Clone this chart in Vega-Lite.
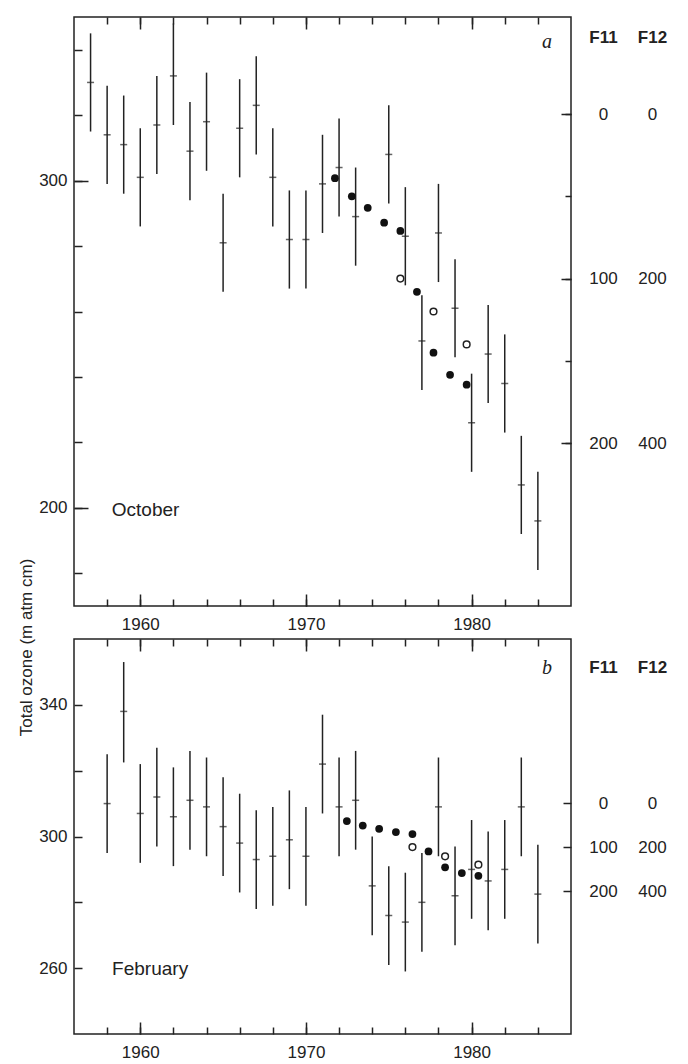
{
  "$schema": "https://vega.github.io/schema/vega-lite/v6.json",
  "background": "white",
  "padding": {"left": 16, "top": 15, "right": 0, "bottom": 0},
  "spacing": 33,
  "bounds": "flush",
  "config": {
    "view": {"stroke": "#222", "strokeWidth": 1.5},
    "font": "Liberation Sans",
    "axis": {
      "labelFont": "Liberation Sans", "labelFontSize": 17, "labelColor": "#222",
      "tickColor": "#222", "tickWidth": 1.5, "domain": false, "grid": false,
      "labelOverlap": false, "labelFlush": false,
      "titleFont": "Liberation Sans", "titleFontSize": 17, "titleFontWeight": "normal", "titleColor": "#222"
    }
  },
  "datasets": {
    "octBars": [
      {"year": 1957, "ozone": 330, "lo": 315, "hi": 345},
      {"year": 1958, "ozone": 314, "lo": 299, "hi": 329},
      {"year": 1959, "ozone": 311, "lo": 296, "hi": 326},
      {"year": 1960, "ozone": 301, "lo": 286, "hi": 316},
      {"year": 1961, "ozone": 317, "lo": 302, "hi": 332},
      {"year": 1962, "ozone": 332, "lo": 317, "hi": 348},
      {"year": 1963, "ozone": 309, "lo": 294, "hi": 324},
      {"year": 1964, "ozone": 318, "lo": 303, "hi": 333},
      {"year": 1965, "ozone": 281, "lo": 266, "hi": 296},
      {"year": 1966, "ozone": 316, "lo": 301, "hi": 331},
      {"year": 1967, "ozone": 323, "lo": 308, "hi": 338},
      {"year": 1968, "ozone": 301, "lo": 286, "hi": 316},
      {"year": 1969, "ozone": 282, "lo": 267, "hi": 297},
      {"year": 1970, "ozone": 282, "lo": 267, "hi": 297},
      {"year": 1971, "ozone": 299, "lo": 284, "hi": 314},
      {"year": 1972, "ozone": 304, "lo": 289, "hi": 319},
      {"year": 1973, "ozone": 289, "lo": 274, "hi": 304},
      {"year": 1975, "ozone": 308, "lo": 293, "hi": 323},
      {"year": 1976, "ozone": 283, "lo": 268, "hi": 298},
      {"year": 1977, "ozone": 251, "lo": 236, "hi": 265},
      {"year": 1978, "ozone": 284, "lo": 269, "hi": 299},
      {"year": 1979, "ozone": 261, "lo": 246, "hi": 276},
      {"year": 1980, "ozone": 226, "lo": 211, "hi": 241},
      {"year": 1981, "ozone": 247, "lo": 232, "hi": 262},
      {"year": 1982, "ozone": 238, "lo": 223, "hi": 253},
      {"year": 1983, "ozone": 207, "lo": 192, "hi": 222},
      {"year": 1984, "ozone": 196, "lo": 181, "hi": 211}
    ],
    "febBars": [
      {"year": 1958, "ozone": 310, "lo": 295, "hi": 325},
      {"year": 1959, "ozone": 338, "lo": 322.5, "hi": 353},
      {"year": 1960, "ozone": 307, "lo": 292, "hi": 322},
      {"year": 1961, "ozone": 312, "lo": 297, "hi": 327},
      {"year": 1962, "ozone": 306, "lo": 291, "hi": 321},
      {"year": 1963, "ozone": 311, "lo": 296, "hi": 326},
      {"year": 1964, "ozone": 309, "lo": 294, "hi": 324},
      {"year": 1965, "ozone": 303, "lo": 288, "hi": 318},
      {"year": 1966, "ozone": 298, "lo": 283, "hi": 313},
      {"year": 1967, "ozone": 293, "lo": 278, "hi": 308},
      {"year": 1968, "ozone": 294, "lo": 279, "hi": 309},
      {"year": 1969, "ozone": 299, "lo": 284, "hi": 314},
      {"year": 1970, "ozone": 294, "lo": 279, "hi": 309},
      {"year": 1971, "ozone": 322, "lo": 307, "hi": 337},
      {"year": 1972, "ozone": 309, "lo": 294, "hi": 324},
      {"year": 1973, "ozone": 311, "lo": 296, "hi": 326},
      {"year": 1974, "ozone": 285, "lo": 270, "hi": 300},
      {"year": 1975, "ozone": 276, "lo": 261, "hi": 291},
      {"year": 1976, "ozone": 274, "lo": 259, "hi": 289},
      {"year": 1977, "ozone": 280, "lo": 265, "hi": 295},
      {"year": 1978, "ozone": 309, "lo": 294, "hi": 324},
      {"year": 1979, "ozone": 282, "lo": 267, "hi": 297},
      {"year": 1980, "ozone": 290, "lo": 275, "hi": 305},
      {"year": 1981, "ozone": 286.5, "lo": 271.5, "hi": 301.5},
      {"year": 1982, "ozone": 290, "lo": 275, "hi": 305},
      {"year": 1983, "ozone": 309, "lo": 294, "hi": 324},
      {"year": 1984, "ozone": 282.5, "lo": 267.5, "hi": 297.5}
    ],
    "octF11": [
      {"date": 1975.7, "ppt": 100},
      {"date": 1977.7, "ppt": 120},
      {"date": 1979.7, "ppt": 140}
    ],
    "octF12": [
      {"date": 1971.75, "ppt": 78},
      {"date": 1972.77, "ppt": 100},
      {"date": 1973.73, "ppt": 114},
      {"date": 1974.72, "ppt": 132},
      {"date": 1975.7, "ppt": 142},
      {"date": 1976.7, "ppt": 216},
      {"date": 1977.7, "ppt": 290},
      {"date": 1978.7, "ppt": 317},
      {"date": 1979.7, "ppt": 329}
    ],
    "febF11": [
      {"date": 1976.43, "ppt": 100},
      {"date": 1978.4, "ppt": 121},
      {"date": 1980.41, "ppt": 140}
    ],
    "febF12": [
      {"date": 1972.47, "ppt": 82},
      {"date": 1973.43, "ppt": 102},
      {"date": 1974.42, "ppt": 117},
      {"date": 1975.43, "ppt": 132},
      {"date": 1976.43, "ppt": 141},
      {"date": 1977.4, "ppt": 220},
      {"date": 1978.4, "ppt": 292},
      {"date": 1979.41, "ppt": 318},
      {"date": 1980.41, "ppt": 331}
    ],
    "octNotes": [{"year": 1958.28, "ozone": 199.3, "label": "October"}],
    "octTag": [{"year": 1984.55, "ozone": 342.4, "label": "a"}],
    "febNotes": [{"year": 1958.3, "ozone": 259.8, "label": "February"}],
    "febTag": [{"year": 1984.55, "ozone": 351.2, "label": "b"}]
  },
  "vconcat": [
    {
      "width": 497,
      "height": 589,
      "layer": [
        {
          "data": {"name": "octBars"},
          "mark": {"type": "rule", "color": "#222", "strokeWidth": 1.5},
          "encoding": {
            "x": {"field": "year", "type": "quantitative",
              "scale": {"domain": [1956, 1986], "nice": false, "zero": false},
              "axis": {"orient": "bottom", "title": null, "format": "d",
                "values": [1958, 1960, 1962, 1964, 1966, 1968, 1970, 1972, 1974, 1976, 1978, 1980, 1982, 1984],
                "labelExpr": "datum.value % 10 === 0 ? datum.label : ''",
                "tickSize": -7, "labelPadding": 17, "labelFlush": false, "labelOverlap": false}},
            "y": {"field": "lo", "type": "quantitative",
              "scale": {"domain": [170, 350], "nice": false, "zero": false},
              "axis": {"orient": "left", "title": "Total ozone (m atm cm)",
                "values": [180, 200, 220, 240, 260, 280, 300, 320, 340],
                "labelExpr": "datum.value % 100 === 0 ? datum.label : ''",
                "tickSize": -8, "labelPadding": 15, "labelOverlap": false, "labelFlush": false,
                "titleAngle": 270, "titleX": -48, "titleY": 630, "titleAlign": "center", "titleBaseline": "middle"}},
            "y2": {"field": "hi"}
          }
        },
        {
          "data": {"name": "octBars"},
          "mark": {"type": "tick", "orient": "horizontal", "size": 7, "thickness": 1.5, "color": "#222"},
          "encoding": {
            "x": {"field": "year", "type": "quantitative", "scale": {"domain": [1956, 1986], "nice": false, "zero": false}, "axis": null},
            "y": {"field": "ozone", "type": "quantitative", "scale": {"domain": [170, 350], "nice": false, "zero": false}, "axis": null}
          }
        },
        {
          "data": {"name": "octF11"},
          "mark": {"type": "point", "shape": "circle", "filled": false, "size": 45, "strokeWidth": 1.5, "color": "#222", "opacity": 1},
          "encoding": {
            "x": {"field": "date", "type": "quantitative",
              "scale": {"domain": [1956, 1986], "nice": false, "zero": false},
              "axis": {"orient": "top", "title": null, "labels": false,
                "values": [1958, 1960, 1962, 1964, 1966, 1968, 1970, 1972, 1974, 1976, 1978, 1980, 1982, 1984],
                "tickSize": -7}},
            "y": {"field": "ppt", "type": "quantitative",
              "scale": {"domain": [-59, 299], "reverse": true, "nice": false, "zero": false},
              "axis": {"orient": "right", "title": "F11", "values": [0, 100, 200],
                "tickSize": -10,
                "labelPadding": 42, "labelAlign": "center", "labelBaseline": "middle", "labelOverlap": false, "labelFlush": false,
                "titleAngle": 0, "titleX": 32, "titleY": 20, "titleAlign": "center", "titleBaseline": "middle", "titleFontWeight": "bold"}}
          }
        },
        {
          "data": {"name": "octF12"},
          "mark": {"type": "circle", "size": 60, "color": "#111", "opacity": 1},
          "encoding": {
            "x": {"field": "date", "type": "quantitative",
              "scale": {"domain": [1956, 1986], "nice": false, "zero": false},
              "axis": {"orient": "bottom", "title": null, "labels": false, "values": [1960, 1970, 1980], "tickSize": -12}},
            "y": {"field": "ppt", "type": "quantitative",
              "scale": {"domain": [-118, 598], "reverse": true, "nice": false, "zero": false},
              "axis": {"orient": "right", "title": "F12", "values": [0, 100, 200, 300, 400],
                "labelExpr": "datum.value % 200 === 0 ? datum.label : ''",
                "tickSize": -6,
                "labelPadding": 87, "labelAlign": "center", "labelBaseline": "middle", "labelOverlap": false, "labelFlush": false,
                "titleAngle": 0, "titleX": 81, "titleY": 20, "titleAlign": "center", "titleBaseline": "middle", "titleFontWeight": "bold"}}
          }
        },
        {
          "data": {"name": "octNotes"},
          "mark": {"type": "text", "align": "left", "baseline": "middle", "fontSize": 19, "font": "Liberation Sans", "color": "#222"},
          "encoding": {
            "x": {"field": "year", "type": "quantitative",
              "scale": {"domain": [1956, 1986], "nice": false, "zero": false},
              "axis": {"orient": "top", "title": null, "labels": false, "values": [1960, 1970, 1980], "tickSize": -12}},
            "y": {"field": "ozone", "type": "quantitative",
              "scale": {"domain": [170, 350], "nice": false, "zero": false},
              "axis": {"orient": "left", "title": null, "labels": false, "values": [200, 300], "tickSize": -14}},
            "text": {"field": "label"}
          }
        },
        {
          "data": {"name": "octTag"},
          "mark": {"type": "text", "align": "center", "baseline": "middle", "fontSize": 20, "font": "Liberation Serif", "fontStyle": "italic", "color": "#222"},
          "encoding": {
            "x": {"field": "year", "type": "quantitative", "scale": {"domain": [1956, 1986], "nice": false, "zero": false}, "axis": null},
            "y": {"field": "ozone", "type": "quantitative", "scale": {"domain": [170, 350], "nice": false, "zero": false}, "axis": null},
            "text": {"field": "label"}
          }
        }
      ],
      "resolve": {"scale": {"y": "independent"}, "axis": {"x": "independent", "y": "independent"}}
    },
    {
      "width": 497,
      "height": 395,
      "layer": [
        {
          "data": {"name": "febBars"},
          "mark": {"type": "rule", "color": "#222", "strokeWidth": 1.5},
          "encoding": {
            "x": {"field": "year", "type": "quantitative",
              "scale": {"domain": [1956, 1986], "nice": false, "zero": false},
              "axis": {"orient": "bottom", "title": null, "format": "d",
                "values": [1958, 1960, 1962, 1964, 1966, 1968, 1970, 1972, 1974, 1976, 1978, 1980, 1982, 1984],
                "labelExpr": "datum.value % 10 === 0 ? datum.label : ''",
                "tickSize": -7, "labelPadding": 17, "labelFlush": false, "labelOverlap": false}},
            "y": {"field": "lo", "type": "quantitative",
              "scale": {"domain": [240, 360], "nice": false, "zero": false},
              "axis": {"orient": "left", "title": null,
                "values": [260, 280, 300, 320, 340],
                "labelExpr": "datum.value % 40 === 20 ? datum.label : ''",
                "tickSize": -8, "labelPadding": 15, "labelOverlap": false, "labelFlush": false}},
            "y2": {"field": "hi"}
          }
        },
        {
          "data": {"name": "febBars"},
          "mark": {"type": "tick", "orient": "horizontal", "size": 7, "thickness": 1.5, "color": "#222"},
          "encoding": {
            "x": {"field": "year", "type": "quantitative", "scale": {"domain": [1956, 1986], "nice": false, "zero": false}, "axis": null},
            "y": {"field": "ozone", "type": "quantitative", "scale": {"domain": [240, 360], "nice": false, "zero": false}, "axis": null}
          }
        },
        {
          "data": {"name": "febF11"},
          "mark": {"type": "point", "shape": "circle", "filled": false, "size": 45, "strokeWidth": 1.5, "color": "#222", "opacity": 1},
          "encoding": {
            "x": {"field": "date", "type": "quantitative",
              "scale": {"domain": [1956, 1986], "nice": false, "zero": false},
              "axis": {"orient": "top", "title": null, "labels": false,
                "values": [1958, 1960, 1962, 1964, 1966, 1968, 1970, 1972, 1974, 1976, 1978, 1980, 1982, 1984],
                "tickSize": -7}},
            "y": {"field": "ppt", "type": "quantitative",
              "scale": {"domain": [-373, 525], "reverse": true, "nice": false, "zero": false},
              "axis": {"orient": "right", "title": "F11", "values": [0, 100, 200],
                "tickSize": -8,
                "labelPadding": 40, "labelAlign": "center", "labelBaseline": "middle", "labelOverlap": false, "labelFlush": false,
                "titleAngle": 0, "titleX": 32, "titleY": 28, "titleAlign": "center", "titleBaseline": "middle", "titleFontWeight": "bold"}}
          }
        },
        {
          "data": {"name": "febF12"},
          "mark": {"type": "circle", "size": 60, "color": "#111", "opacity": 1},
          "encoding": {
            "x": {"field": "date", "type": "quantitative",
              "scale": {"domain": [1956, 1986], "nice": false, "zero": false},
              "axis": {"orient": "bottom", "title": null, "labels": false, "values": [1960, 1970, 1980], "tickSize": -12}},
            "y": {"field": "ppt", "type": "quantitative",
              "scale": {"domain": [-746, 1050], "reverse": true, "nice": false, "zero": false},
              "axis": {"orient": "right", "title": "F12", "values": [0, 200, 400],
                "tickSize": 0, "tickOpacity": 0,
                "labelPadding": 81, "labelAlign": "center", "labelBaseline": "middle", "labelOverlap": false, "labelFlush": false,
                "titleAngle": 0, "titleX": 81, "titleY": 28, "titleAlign": "center", "titleBaseline": "middle", "titleFontWeight": "bold"}}
          }
        },
        {
          "data": {"name": "febNotes"},
          "mark": {"type": "text", "align": "left", "baseline": "middle", "fontSize": 19, "font": "Liberation Sans", "color": "#222"},
          "encoding": {
            "x": {"field": "year", "type": "quantitative",
              "scale": {"domain": [1956, 1986], "nice": false, "zero": false},
              "axis": {"orient": "top", "title": null, "labels": false, "values": [1960, 1970, 1980], "tickSize": -12}},
            "y": {"field": "ozone", "type": "quantitative",
              "scale": {"domain": [240, 360], "nice": false, "zero": false},
              "axis": null},
            "text": {"field": "label"}
          }
        },
        {
          "data": {"name": "febTag"},
          "mark": {"type": "text", "align": "center", "baseline": "middle", "fontSize": 20, "font": "Liberation Serif", "fontStyle": "italic", "color": "#222"},
          "encoding": {
            "x": {"field": "year", "type": "quantitative", "scale": {"domain": [1956, 1986], "nice": false, "zero": false}, "axis": null},
            "y": {"field": "ozone", "type": "quantitative", "scale": {"domain": [240, 360], "nice": false, "zero": false}, "axis": null},
            "text": {"field": "label"}
          }
        }
      ],
      "resolve": {"scale": {"y": "independent"}, "axis": {"x": "independent", "y": "independent"}}
    }
  ]
}
